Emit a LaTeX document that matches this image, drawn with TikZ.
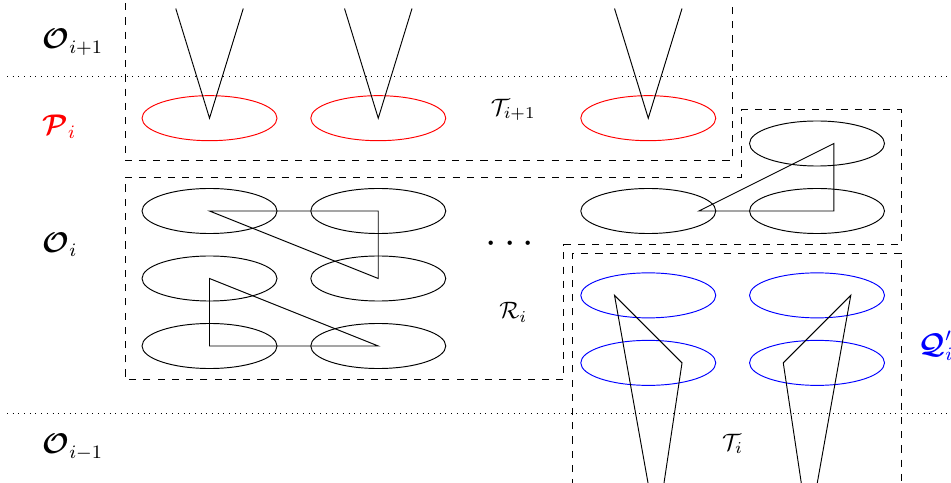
\documentclass[tikz,border=0pt]{standalone}
\usepackage{amsmath}
\usepackage{bm}
\usetikzlibrary{shapes.geometric,calc}

\tikzset{
  layer/.style={font=\large, anchor=west, inner sep=0pt},
  blob/.style={ellipse, draw, minimum width=2cm, minimum height=0.667cm, inner sep=0pt},
  region/.style={dashed},
  level/.style={dotted},
}

\begin{document}
\begin{tikzpicture}
\useasboundingbox (-3.104,-2.015) rectangle (10.985,5.126);
\clip (-3.104,-2.015) rectangle (10.985,5.126);

% levels
\draw[level] (-3,4) -- (11.5,4);
\draw[level] (-3,-1) -- (11.5,-1);

\node[layer] (oup) at (-2.48,4.5) {$\bm{\mathcal{O}}_{i+1}$};
\node[layer, text=red] (pi) at (-2.48,3.25) {$\bm{\mathcal{P}}_i$};
\node[layer] (oi) at (-2.48,1.5) {$\bm{\mathcal{O}}_i$};
\node[layer] (odown) at (-2.48,-1.5) {$\bm{\mathcal{O}}_{i-1}$};
\node[layer, text=blue] (qi) at (10.5,0) {$\bm{\mathcal{Q}}'_i$};

% P_i row
\node[blob, draw=red] (p1) at (0,3.375) {};
\node[blob, draw=red] (p2) at (2.5,3.375) {};
\node[blob, draw=red] (p3) at (6.5,3.375) {};

% R_i
\node[blob] (a11) at (0,2) {};
\node[blob] (a12) at (2.5,2) {};
\node[blob] (a21) at (0,1) {};
\node[blob] (a22) at (2.5,1) {};
\node[blob] (a31) at (0,0) {};
\node[blob] (a32) at (2.5,0) {};
\node[blob] (b1) at (6.5,2) {};
\node[blob] (b2) at (9,2) {};
\node[blob] (b3) at (9,3) {};

% Q'_i
\node[blob, draw=blue] (q11) at (6.5,0.75) {};
\node[blob, draw=blue] (q12) at (9,0.75) {};
\node[blob, draw=blue] (q21) at (6.5,-0.25) {};
\node[blob, draw=blue] (q22) at (9,-0.25) {};

\draw (a11.center) -- (a12.center) -- (a22.center) -- cycle;
\draw (a21.center) -- (a31.center) -- (a32.center) -- cycle;

\coordinate (r1) at (7.25,2);
\coordinate (r2) at (9.25,3);
\coordinate (r3) at (9.25,2);
\draw (r1) -- (r2) -- (r3) -- cycle;

% cones from O_{i+1}
\foreach \n in {p1,p2,p3} {
  \coordinate (\n l) at ($(\n.center)+(-0.5,1.625)$);
  \coordinate (\n r) at ($(\n.center)+(0.5,1.625)$);
  \draw (\n l) -- (\n.center) -- (\n r);
}

% cones to O_{i-1}
\coordinate (s1) at (6.625,-2.75);
\coordinate (s2) at (8.875,-2.75);
\coordinate (u1) at ($(q11.center)+(-0.5,0)$);
\coordinate (u2) at ($(q21.center)+(0.5,0)$);
\coordinate (u3) at ($(q12.center)+(0.5,0)$);
\coordinate (u4) at ($(q22.center)+(-0.5,0)$);
\draw (s1) -- (u1) -- (u2) -- (s1);
\draw (s2) -- (u3) -- (u4) -- (s2);

% regions
\draw[region] (-1.25,5.5) -- (-1.25,2.75) -- (7.75,2.75) -- (7.75,5.5);
\draw[region] (-1.25,2.5) -- (7.875,2.5) -- (7.875,3.5) -- (10.25,3.5)
  -- (10.25,1.5) -- (5.25,1.5) -- (5.25,-0.5) -- (-1.25,-0.5) -- cycle;
\draw[region] (5.375,-2.5) -- (5.375,1.375) -- (10.25,1.375) -- (10.25,-2.5);

\node (tup) at (4.5,3.5) {$\mathcal{T}_{i+1}$};
\node (dots) at (4.5,1.5) {\LARGE$\cdots$};
\node (ri) at (4.5,0.5) {$\mathcal{R}_i$};
\node (ti) at (7.75,-1.45) {$\mathcal{T}_i$};
\end{tikzpicture}
\end{document}
